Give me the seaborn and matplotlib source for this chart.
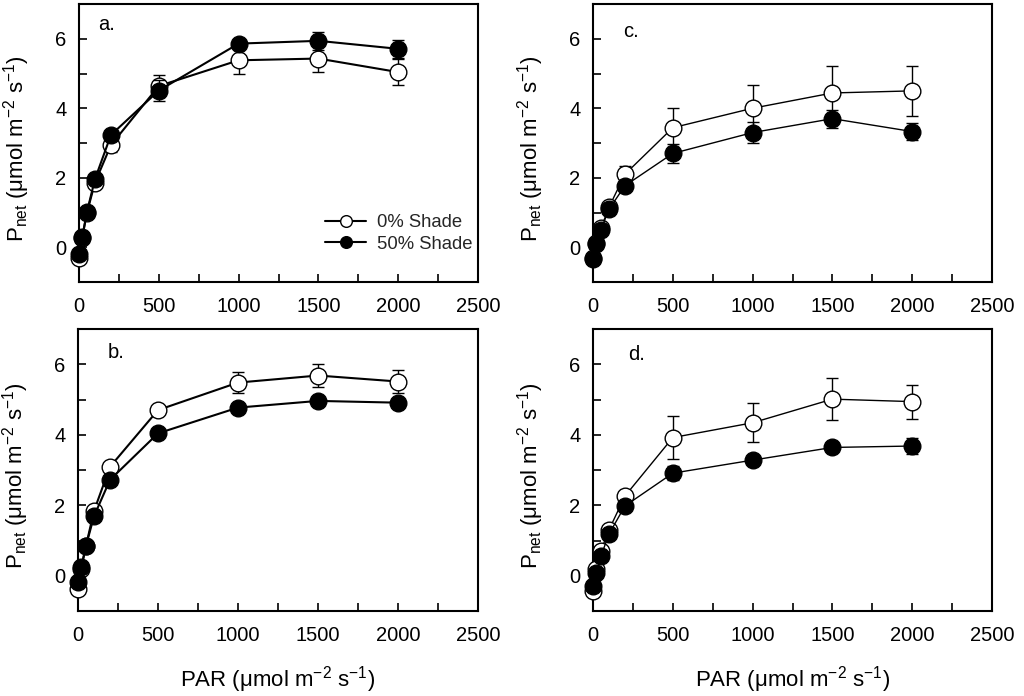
import numpy as np
import pandas as pd
import matplotlib
matplotlib.use("Agg")
import matplotlib.pyplot as plt
import seaborn as sns
from matplotlib.ticker import MultipleLocator

# ---------------- data ----------------
par = [0, 20, 50, 100, 200, 500, 1000, 1500, 2000]

a_open = [-0.30, 0.27, 1.00, 1.86, 2.94, 4.64, 5.38, 5.43, 5.04]
a_open_err = [0.05, 0.05, 0.08, 0.10, 0.20, 0.33, 0.40, 0.40, 0.38]
a_fill = [-0.18, 0.29, 1.02, 1.96, 3.23, 4.51, 5.86, 5.94, 5.71]
a_fill_err = [0.05, 0.05, 0.08, 0.08, 0.10, 0.30, 0.12, 0.25, 0.26]

b_open = [-0.39, 0.20, 0.85, 1.84, 3.09, 4.70, 5.48, 5.68, 5.51]
b_open_err = [0.05, 0.05, 0.08, 0.10, 0.10, 0.15, 0.30, 0.32, 0.33]
b_fill = [-0.19, 0.24, 0.85, 1.69, 2.72, 4.04, 4.77, 4.96, 4.91]
b_fill_err = [0.05, 0.05, 0.06, 0.08, 0.10, 0.10, 0.10, 0.08, 0.10]

c_open = [-0.30, 0.12, 0.55, 1.15, 2.10, 3.44, 4.00, 4.44, 4.50]
c_open_err = [0.05, 0.08, 0.10, 0.15, 0.25, 0.56, 0.67, 0.77, 0.73]
c_fill = [-0.33, 0.08, 0.51, 1.09, 1.77, 2.70, 3.30, 3.70, 3.33]
c_fill_err = [0.05, 0.06, 0.10, 0.15, 0.12, 0.27, 0.30, 0.26, 0.24]

d_open = [-0.44, 0.19, 0.71, 1.30, 2.26, 3.92, 4.34, 5.01, 4.94]
d_open_err = [0.05, 0.06, 0.10, 0.10, 0.10, 0.60, 0.55, 0.60, 0.48]
d_fill = [-0.28, 0.07, 0.56, 1.18, 1.98, 2.91, 3.28, 3.64, 3.68]
d_fill_err = [0.05, 0.06, 0.08, 0.10, 0.10, 0.20, 0.15, 0.13, 0.22]

series_labels = ["0% Shade", "50% Shade"]
panel_letters = ["a.", "b.", "c.", "d."]
xticks = [0, 500, 1000, 1500, 2000, 2500]
yticks = [0, 2, 4, 6]

# ---------------- style ----------------
sns.set_theme(style="ticks")
plt.rcParams["font.family"] = ["Liberation Sans", "DejaVu Sans"]
plt.rcParams["mathtext.fontset"] = "custom"
plt.rcParams["mathtext.rm"] = "Liberation Sans"
plt.rcParams["mathtext.it"] = "Liberation Sans"
plt.rcParams["mathtext.bf"] = "Liberation Sans"

fig = plt.figure(figsize=(10.24, 6.96), dpi=100)
W, H = 1024, 696

def rect(l, r, t, b):
    return [l / W, (H - b) / H, (r - l) / W, (b - t) / H]

panels = [
    (rect(79, 478, 4, 282), a_open, a_open_err, a_fill, a_fill_err, panel_letters[0], (0.048, 0.925), 1.5),
    (rect(78, 478, 329, 611), b_open, b_open_err, b_fill, b_fill_err, panel_letters[1], (0.073, 0.918), 1.5),
    (rect(593, 992, 4, 282), c_open, c_open_err, c_fill, c_fill_err, panel_letters[2], (0.075, 0.90), 1.0),
    (rect(593, 992, 329, 611), d_open, d_open_err, d_fill, d_fill_err, panel_letters[3], (0.088, 0.908), 1.0),
]

ylab = r"P$_{\mathrm{net}}$ (μmol m$^{-2}$ s$^{-1}$)"
xlab = r"PAR (μmol m$^{-2}$ s$^{-1}$)"

for i, (r, yo, eo, yf, ef, letter, lpos, lw) in enumerate(panels):
    ax = fig.add_axes(r)
    df = pd.DataFrame({"PAR": par * 2,
                       "Pnet": yo + yf,
                       "err": eo + ef,
                       "Treatment": [series_labels[0]] * len(par) + [series_labels[1]] * len(par)})
    for j, (lab, face) in enumerate(zip(series_labels, ["white", "black"])):
        sub = df[df["Treatment"] == lab]
        ax.errorbar(sub["PAR"], sub["Pnet"], yerr=sub["err"], fmt="none",
                    ecolor="black", elinewidth=1.0, capsize=4, capthick=1.0,
                    zorder=2 + j * 2, clip_on=False)
        sns.lineplot(data=sub, x="PAR", y="Pnet", ax=ax, color="black",
                     linewidth=lw, marker="o", markersize=12,
                     markerfacecolor=face, markeredgecolor="black",
                     markeredgewidth=1.0, label=lab, zorder=3 + j * 2,
                     clip_on=False, errorbar=None)
    ax.set_xlim(0, 2500)
    ax.set_ylim(-1, 7)
    ax.set_xticks(xticks)
    ax.set_yticks(yticks)
    ax.xaxis.set_minor_locator(MultipleLocator(250))
    ax.yaxis.set_minor_locator(MultipleLocator(1))
    ax.tick_params(axis="both", which="both", direction="in", length=6,
                   width=1.2, top=False, right=False, colors="black")
    ax.tick_params(axis="x", which="major", pad=11, labelsize=14.5)
    ax.tick_params(axis="y", which="major", pad=9, labelsize=14.5)
    for s in ax.spines.values():
        s.set_linewidth(1.5)
        s.set_color("black")
    ax.set_ylabel(ylab, fontsize=16, color="black")
    ax.yaxis.set_label_coords(-0.117, 0.48)
    if i in (1, 3):
        ax.set_xlabel(xlab, fontsize=16, color="black")
        ax.xaxis.set_label_coords(0.5, -0.19)
    else:
        ax.set_xlabel("")
    ax.text(lpos[0], lpos[1], letter, transform=ax.transAxes, fontsize=14.5,
            ha="left", va="center", color="black")
    if i == 0:
        ax.legend(frameon=False, loc="lower right", bbox_to_anchor=(1.028, 0.045),
                  fontsize=13.3, handlelength=2.2, handletextpad=0.6,
                  labelspacing=0.25, markerscale=0.7)
    else:
        leg = ax.get_legend()
        if leg is not None:
            leg.remove()

fig.savefig("out.png", dpi=100)
